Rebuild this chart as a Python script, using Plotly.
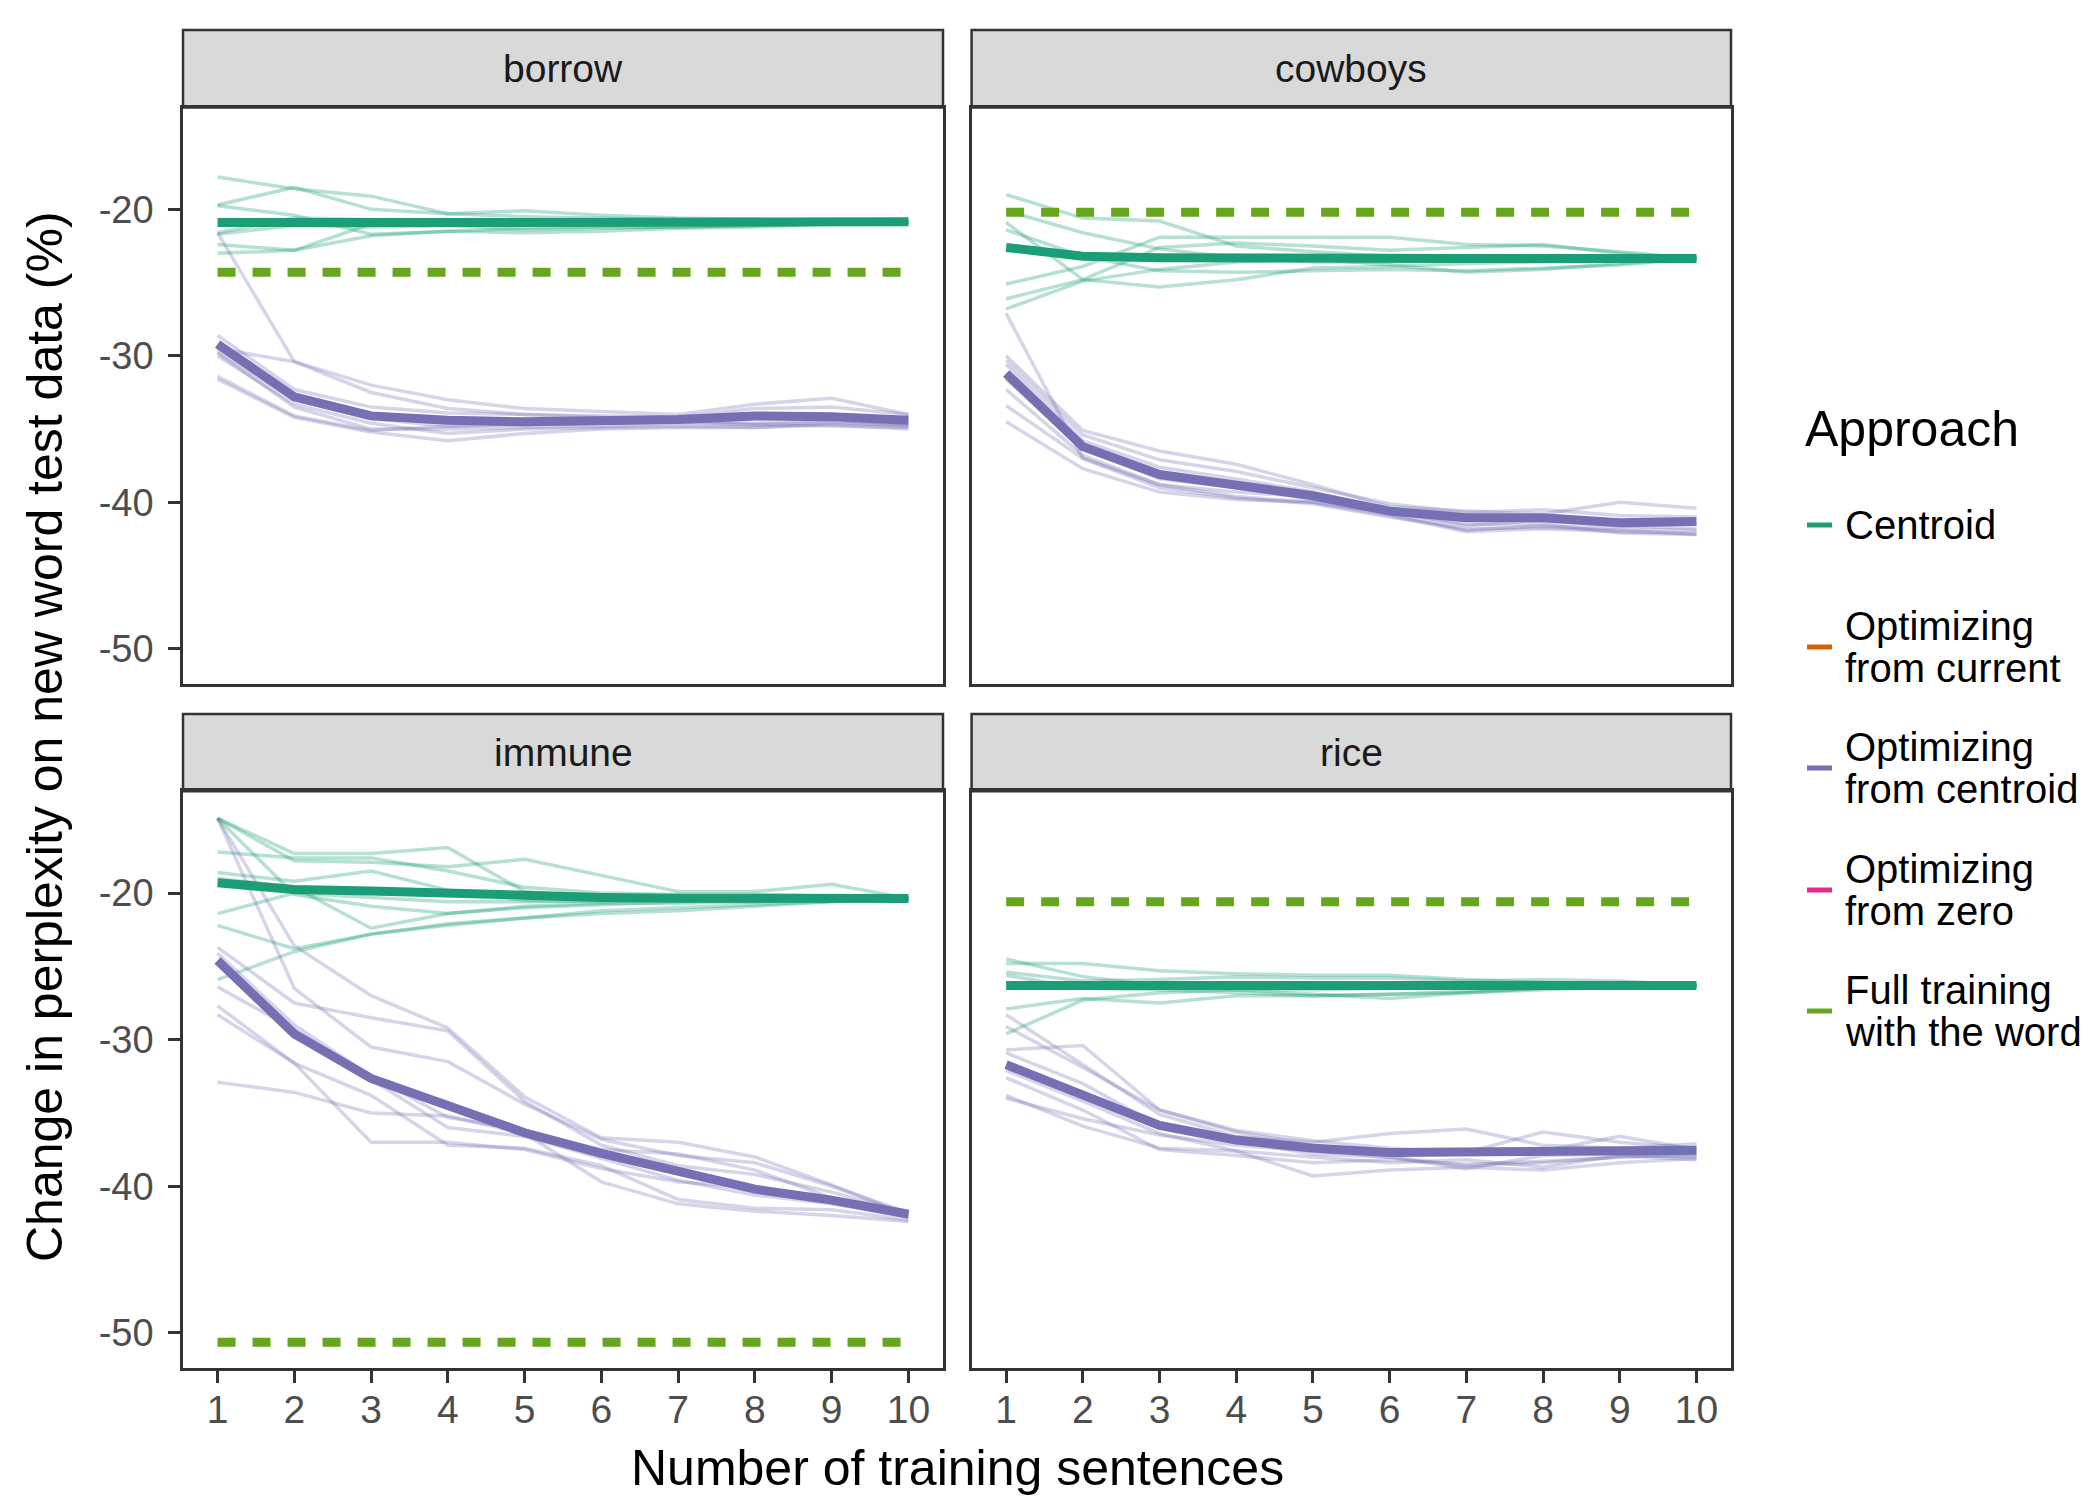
import plotly.graph_objects as go

# ---------------- data ----------------
x_sentences = [1, 2, 3, 4, 5, 6, 7, 8, 9, 10]
words = ["borrow", "cowboys", "immune", "rice"]
y_tick_vals = [-50, -40, -30, -20]
y_tick_text = ["-50", "-40", "-30", "-20"]

legend_title = "Approach"
legend_labels = [["Centroid"],
                 ["Optimizing", "from current"],
                 ["Optimizing", "from centroid"],
                 ["Optimizing", "from zero"],
                 ["Full training", "with the word"]]
legend_colors = ["#1B9E77", "#D95F02", "#7570B3", "#E7298A", "#66A61E"]

# full training (dashed reference)
full_training = {"borrow": -24.3, "cowboys": -20.2, "immune": -50.65, "rice": -20.6}

# ---- borrow ----
borrow_centroid_mean = [-20.9, -20.85, -20.9, -20.9, -20.9, -20.9, -20.9, -20.9, -20.9, -20.85]
borrow_centroid_runs = [
    [-17.8, -18.6, -19.1, -20.3, -20.5, -20.6, -20.7, -20.7, -20.8, -20.85],
    [-19.7, -18.5, -20.0, -20.3, -20.1, -20.4, -20.6, -20.7, -20.8, -20.85],
    [-19.75, -20.4, -21.7, -21.5, -21.3, -21.2, -21.2, -21.1, -21.0, -20.9],
    [-21.6, -20.6, -20.7, -20.9, -21.0, -21.1, -21.0, -21.0, -20.9, -20.9],
    [-21.7, -21.1, -21.2, -21.1, -21.4, -21.3, -21.2, -21.1, -21.0, -20.9],
    [-22.4, -22.8, -21.8, -21.5, -21.6, -21.5, -21.3, -21.2, -21.0, -20.9],
    [-23.0, -22.8, -21.0, -20.8, -20.9, -21.0, -21.0, -21.0, -20.9, -20.9],
]
borrow_optc_mean = [-29.2, -32.8, -34.1, -34.4, -34.5, -34.5, -34.35, -34.1, -34.15, -34.4]
borrow_optc_runs = [
    [-21.6, -30.4, -32.5, -33.6, -34.0, -34.2, -34.4, -34.6, -34.4, -34.7],
    [-28.6, -32.3, -33.5, -33.9, -34.0, -34.1, -34.2, -33.6, -33.5, -34.0],
    [-29.5, -30.4, -32.0, -33.0, -33.6, -33.8, -34.0, -33.3, -32.9, -34.0],
    [-29.7, -33.0, -34.3, -34.8, -34.7, -34.6, -34.5, -34.3, -34.2, -34.5],
    [-30.0, -33.3, -34.6, -35.3, -35.0, -34.9, -34.8, -34.9, -34.6, -34.7],
    [-29.8, -33.5, -35.0, -35.0, -34.9, -34.8, -34.6, -34.7, -34.8, -34.9],
    [-31.4, -34.1, -35.1, -34.8, -34.6, -34.6, -34.5, -34.7, -34.5, -34.8],
    [-31.6, -34.2, -35.2, -35.8, -35.3, -35.0, -34.9, -34.9, -34.7, -35.0],
]

# ---- cowboys ----
cowboys_centroid_mean = [-22.6, -23.2, -23.3, -23.35, -23.35, -23.35, -23.35, -23.35, -23.35, -23.35]
cowboys_centroid_runs = [
    [-19.0, -20.6, -20.8, -22.5, -22.9, -23.2, -23.4, -23.3, -23.4, -23.35],
    [-20.1, -21.6, -22.7, -23.3, -23.6, -23.6, -23.5, -23.4, -23.3, -23.35],
    [-20.9, -24.8, -25.3, -24.8, -24.0, -23.9, -23.7, -23.6, -23.5, -23.35],
    [-21.4, -23.2, -24.2, -24.3, -24.2, -24.1, -24.2, -24.0, -23.8, -23.35],
    [-25.1, -23.9, -21.9, -21.9, -21.9, -21.9, -22.4, -22.5, -22.9, -23.35],
    [-26.1, -24.8, -22.6, -22.3, -22.5, -22.8, -22.6, -22.4, -23.0, -23.35],
    [-26.8, -24.9, -24.1, -23.6, -23.4, -23.8, -24.3, -24.1, -23.7, -23.35],
]
cowboys_optc_mean = [-31.2, -36.2, -38.1, -38.75, -39.55, -40.6, -41.05, -41.05, -41.4, -41.3]
cowboys_optc_runs = [
    [-27.1, -37.0, -38.8, -39.3, -39.6, -40.4, -41.0, -41.3, -41.6, -41.8],
    [-30.0, -35.1, -36.5, -37.4, -38.8, -40.3, -40.6, -40.8, -40.0, -40.4],
    [-30.3, -35.4, -37.1, -37.9, -39.0, -40.1, -40.7, -40.5, -40.9, -41.0],
    [-30.6, -35.8, -37.6, -38.4, -39.3, -40.6, -41.6, -41.2, -41.4, -41.5],
    [-31.6, -36.3, -38.4, -39.0, -39.8, -40.8, -41.9, -41.6, -41.8, -41.9],
    [-32.3, -36.8, -38.8, -39.6, -40.0, -40.9, -42.0, -41.8, -42.0, -42.1],
    [-33.4, -37.0, -39.0, -39.7, -40.1, -41.0, -41.8, -41.7, -41.9, -42.2],
    [-34.5, -37.7, -39.3, -39.8, -40.0, -40.7, -41.5, -41.5, -42.1, -42.2],
]

# ---- immune ----
immune_centroid_mean = [-19.3, -19.75, -19.85, -20.05, -20.2, -20.3, -20.35, -20.37, -20.37, -20.37]
immune_centroid_runs = [
    [-14.9, -17.3, -17.3, -16.9, -19.9, -20.3, -20.5, -20.6, -20.4, -20.37],
    [-14.9, -17.8, -17.9, -18.2, -17.7, -18.8, -19.9, -19.9, -19.4, -20.37],
    [-14.9, -20.1, -20.9, -21.4, -21.0, -20.8, -20.6, -20.5, -20.4, -20.37],
    [-17.2, -17.6, -17.6, -18.5, -19.6, -20.0, -20.1, -20.1, -20.2, -20.37],
    [-18.6, -19.2, -18.5, -19.8, -20.5, -20.6, -20.4, -20.3, -20.2, -20.37],
    [-19.0, -19.6, -22.4, -21.4, -20.9, -20.7, -20.7, -20.6, -20.5, -20.37],
    [-21.4, -20.0, -20.3, -20.6, -20.6, -20.5, -20.4, -20.5, -20.4, -20.37],
    [-22.2, -23.8, -22.8, -22.2, -21.7, -21.4, -21.2, -20.9, -20.6, -20.37],
    [-25.9, -24.0, -22.8, -22.1, -21.7, -21.2, -21.0, -20.8, -20.6, -20.37],
]
immune_optc_mean = [-24.6, -29.6, -32.65, -34.55, -36.35, -37.75, -39.05, -40.2, -40.95, -41.9]
immune_optc_runs = [
    [-14.9, -23.6, -27.0, -29.2, -33.9, -36.7, -37.0, -38.0, -39.9, -42.0],
    [-14.9, -26.5, -30.5, -31.5, -34.4, -36.8, -37.9, -38.4, -40.0, -41.8],
    [-23.7, -27.5, -28.5, -29.4, -34.2, -37.2, -38.6, -39.2, -40.4, -41.8],
    [-24.1, -29.0, -32.5, -35.3, -36.2, -37.5, -37.8, -38.9, -40.8, -42.1],
    [-26.4, -29.3, -32.7, -36.0, -36.6, -38.1, -39.6, -40.6, -41.2, -42.1],
    [-27.7, -31.6, -33.8, -37.2, -37.4, -38.6, -40.9, -41.5, -41.6, -42.3],
    [-28.3, -31.6, -37.0, -37.0, -37.5, -38.8, -39.7, -40.1, -41.0, -42.0],
    [-32.9, -33.6, -35.0, -35.2, -36.4, -39.7, -41.2, -41.7, -42.0, -42.4],
]

# ---- rice ----
rice_centroid_mean = [-26.3, -26.3, -26.3, -26.3, -26.3, -26.3, -26.3, -26.3, -26.3, -26.3]
rice_centroid_runs = [
    [-24.5, -25.7, -26.3, -26.6, -26.6, -26.5, -26.4, -26.3, -26.3, -26.3],
    [-24.8, -24.8, -25.3, -25.5, -25.6, -25.6, -25.9, -26.1, -26.2, -26.3],
    [-25.4, -26.0, -25.9, -25.7, -25.8, -25.8, -26.0, -25.9, -26.0, -26.3],
    [-25.6, -26.5, -26.6, -26.8, -27.0, -26.9, -26.7, -26.5, -26.4, -26.3],
    [-27.9, -27.2, -27.5, -27.0, -27.0, -26.9, -26.8, -26.6, -26.4, -26.3],
    [-29.6, -27.3, -26.8, -26.6, -26.9, -27.2, -26.8, -26.5, -26.3, -26.3],
]
rice_optc_mean = [-31.7, -33.8, -35.85, -36.85, -37.4, -37.7, -37.7, -37.55, -37.55, -37.55]
rice_optc_runs = [
    [-28.3, -31.7, -35.1, -36.6, -37.0, -36.4, -36.1, -37.2, -37.4, -37.1],
    [-29.1, -31.9, -34.8, -36.3, -37.2, -37.6, -37.7, -36.3, -37.0, -37.4],
    [-30.7, -30.4, -34.8, -36.2, -36.9, -37.4, -37.8, -37.6, -36.6, -37.5],
    [-30.9, -33.0, -35.9, -36.9, -37.8, -38.0, -38.8, -37.9, -37.8, -38.0],
    [-32.1, -34.2, -36.4, -37.6, -39.3, -38.9, -38.7, -38.9, -38.4, -38.1],
    [-32.6, -34.8, -37.5, -37.9, -38.4, -38.2, -38.5, -38.3, -38.0, -37.9],
    [-33.8, -35.9, -37.4, -37.6, -38.0, -38.4, -38.2, -38.7, -37.9, -38.2],
    [-34.0, -35.4, -36.5, -37.2, -37.6, -38.0, -38.6, -38.4, -38.0, -37.8],
]

centroid_means = [borrow_centroid_mean, cowboys_centroid_mean, immune_centroid_mean, rice_centroid_mean]
centroid_runs = [borrow_centroid_runs, cowboys_centroid_runs, immune_centroid_runs, rice_centroid_runs]
optc_means = [borrow_optc_mean, cowboys_optc_mean, immune_optc_mean, rice_optc_mean]
optc_runs = [borrow_optc_runs, cowboys_optc_runs, immune_optc_runs, rice_optc_runs]

# ---------------- layout helpers ----------------
W, H = 2100, 1500
DX, DY = -5, -5
ML, MR, MT, MB = 180 + DX, 372 - DX, 27 + DY, 135 - DY
PW, PH = W - ML - MR, H - MT - MB


def pxx(x):
    return (x + DX - ML) / PW


def pyy(y):
    return (H - MB - (y + DY)) / PH


col_x = [(180, 940), (968.6, 1728)]
row_plot = [(104.5, 681), (788.2, 1365)]
row_strip = [(27, 104.5), (711, 788.2)]

GREEN = "#1B9E77"
PURPLE = "#7570B3"
FULLG = "#66A61E"
GREEN_T = "rgba(27,158,119,0.32)"
PURPLE_T = "rgba(117,112,179,0.30)"
FONT = "Liberation Sans, Arial, Helvetica, sans-serif"
BORDER = "#333333"

fig = go.Figure()
shapes = []
annotations = []

for i, word in enumerate(words):
    r, c = divmod(i, 2)
    n = i + 1
    xa = "x" if n == 1 else f"x{n}"
    ya = "y" if n == 1 else f"y{n}"

    for run in centroid_runs[i]:
        fig.add_trace(go.Scatter(x=x_sentences, y=run, mode="lines", xaxis=xa, yaxis=ya,
                                 line=dict(color=GREEN_T, width=3.5), showlegend=False, hoverinfo="skip"))
    for run in optc_runs[i]:
        fig.add_trace(go.Scatter(x=x_sentences, y=run, mode="lines", xaxis=xa, yaxis=ya,
                                 line=dict(color=PURPLE_T, width=3.5), showlegend=False, hoverinfo="skip"))
    fig.add_trace(go.Scatter(x=x_sentences, y=centroid_means[i], mode="lines", xaxis=xa, yaxis=ya,
                             line=dict(color=GREEN, width=9), showlegend=False))
    fig.add_trace(go.Scatter(x=x_sentences, y=optc_means[i], mode="lines", xaxis=xa, yaxis=ya,
                             line=dict(color=PURPLE, width=9), showlegend=False))
    fig.add_trace(go.Scatter(x=[x_sentences[0], x_sentences[-1]], y=[full_training[word]] * 2,
                             mode="lines", xaxis=xa, yaxis=ya,
                             line=dict(color=FULLG, width=9, dash="18px,17px"), showlegend=False))

    x0, x1 = col_x[c]
    yp0, yp1 = row_plot[r]
    ys0, ys1 = row_strip[r]
    bottom = (r == 1)
    left = (c == 0)
    xkey = "xaxis" if n == 1 else f"xaxis{n}"
    ykey = "yaxis" if n == 1 else f"yaxis{n}"
    fig.layout[xkey] = dict(
        domain=[pxx(x0), pxx(x1)], anchor=ya, range=[0.55, 10.45],
        showgrid=False, zeroline=False, showline=True, mirror=True,
        linecolor=BORDER, linewidth=2.5,
        tickvals=x_sentences if bottom else [],
        ticks="outside" if bottom else "", ticklen=12, tickwidth=2.7, tickcolor=BORDER,
        showticklabels=bottom, tickfont=dict(size=39, color="#4D4D4D", family=FONT),
        ticklabelstandoff=-7,
    )
    fig.layout[ykey] = dict(
        domain=[pyy(yp1), pyy(yp0)], anchor=xa, range=[-52.4, -13.05],
        showgrid=False, zeroline=False, showline=True, mirror=True,
        linecolor=BORDER, linewidth=2.5,
        tickvals=y_tick_vals if left else [], ticktext=y_tick_text if left else [],
        ticks="outside" if left else "", ticklen=12, tickwidth=2.7, tickcolor=BORDER,
        showticklabels=left, tickfont=dict(size=38, color="#4D4D4D", family=FONT),
        ticklabelstandoff=7,
    )
    # strip
    shapes.append(dict(type="rect", xref="paper", yref="paper",
                       x0=pxx(x0), x1=pxx(x1), y0=pyy(ys1), y1=pyy(ys0),
                       fillcolor="#D9D9D9", line=dict(color=BORDER, width=2.5), layer="below"))
    annotations.append(dict(text=word, xref="paper", yref="paper",
                            x=pxx((x0 + x1) / 2), y=pyy((ys0 + ys1) / 2),
                            xanchor="center", yanchor="middle", showarrow=False,
                            font=dict(size=39, color="#1A1A1A", family=FONT)))

# axis titles
annotations.append(dict(text="Number of training sentences", xref="paper", yref="paper",
                        x=pxx(954), y=pyy(1465), xanchor="center", yanchor="middle", showarrow=False,
                        font=dict(size=50, color="#000000", family=FONT)))
annotations.append(dict(text="Change in perplexity on new word test data (%)", xref="paper", yref="paper",
                        x=pxx(42), y=pyy(734), xanchor="center", yanchor="middle", showarrow=False,
                        textangle=-90, font=dict(size=50, color="#000000", family=FONT)))

# legend (manual)
annotations.append(dict(text=legend_title, xref="paper", yref="paper",
                        x=pxx(1800), y=pyy(426), xanchor="left", yanchor="middle", showarrow=False,
                        font=dict(size=50, color="#000000", family=FONT)))
key_y = [522, 644, 765, 887, 1008]
line_gap = 42
for lab, col, ky in zip(legend_labels, legend_colors, key_y):
    shapes.append(dict(type="line", xref="paper", yref="paper",
                       x0=pxx(1804), x1=pxx(1829), y0=pyy(ky), y1=pyy(ky),
                       line=dict(color=col, width=5)))
    nl = len(lab)
    for j, t in enumerate(lab):
        yy = ky + (j - (nl - 1) / 2) * line_gap
        annotations.append(dict(text=t, xref="paper", yref="paper",
                                x=pxx(1840), y=pyy(yy), xanchor="left", yanchor="middle",
                                showarrow=False, font=dict(size=40, color="#000000", family=FONT)))

fig.update_layout(
    width=W, height=H,
    margin=dict(l=ML, r=MR, t=MT, b=MB, pad=0),
    paper_bgcolor="white", plot_bgcolor="white",
    showlegend=False,
    shapes=shapes, annotations=annotations,
    font=dict(family=FONT),
)

fig.write_html("out.html")
